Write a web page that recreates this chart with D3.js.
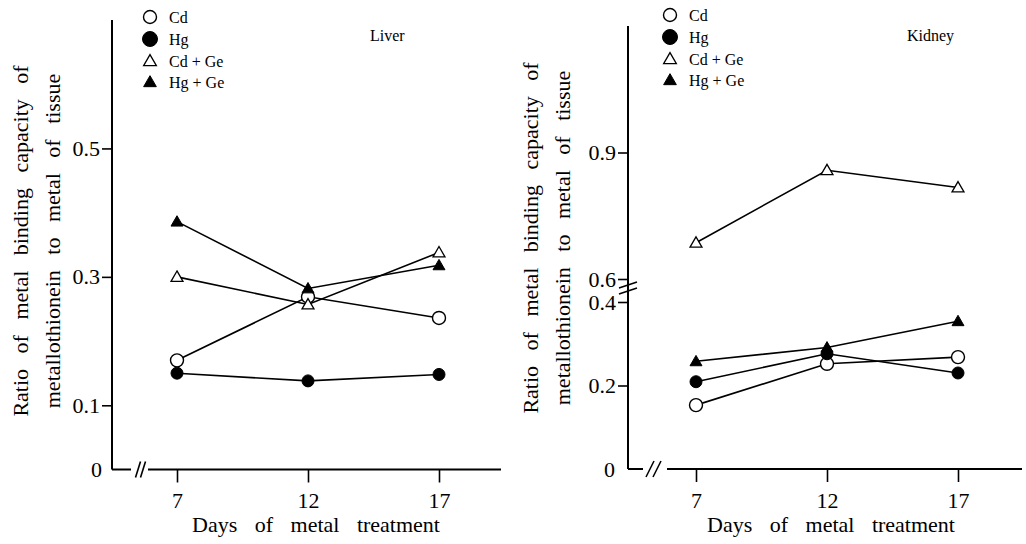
<!DOCTYPE html>
<html><head><meta charset="utf-8">
<script src="https://cdn.jsdelivr.net/npm/d3@7"></script>
<style>
html,body{margin:0;padding:0;background:#fff;}
svg{display:block;}
svg text{font-family:"Liberation Serif","Times New Roman","DejaVu Serif",serif !important;fill:#000;}
</style></head>
<body>
<svg id="chart" width="1026" height="544"></svg>
<script>
// ---- data ----
const days = [7, 12, 17];
const seriesNames = ["Cd", "Hg", "Cd + Ge", "Hg + Ge"];
const seriesMarkers = ["openCircle", "filledCircle", "openTriangle", "filledTriangle"];
const liverCd   = [0.170, 0.269, 0.236];
const liverHg   = [0.150, 0.138, 0.148];
const liverCdGe = [0.300, 0.257, 0.338];
const liverHgGe = [0.386, 0.282, 0.318];
const kidneyCd   = [0.153, 0.252, 0.268];
const kidneyHg   = [0.209, 0.276, 0.230];
const kidneyCdGe = [0.686, 0.858, 0.817];
const kidneyHgGe = [0.258, 0.291, 0.354];
const liverTicks = [0.1, 0.3, 0.5];
const kidneyTicks = [0.2, 0.4, 0.6, 0.9];
const dayTicks = [7, 12, 17];
const yTitle1 = "Ratio of metal binding capacity of";
const yTitle2 = "metallothionein to metal of tissue";
const xTitle = "Days of metal treatment";

const svg = d3.select("#chart");

function marker(g, type, x, y, big) {
  const open = type.startsWith("open");
  if (type.endsWith("Circle")) {
    g.append("circle").attr("cx", x).attr("cy", y)
      .attr("r", big ? (open ? 6.5 : 7.5) : (open ? 6.5 : 6))
      .attr("fill", open ? "#fff" : "#000")
      .attr("stroke", "#000").attr("stroke-width", open ? 1.4 : 1);
  } else {
    g.append("path").attr("d", d3.symbol(d3.symbolTriangle, big ? 70 : 62)())
      .attr("transform", `translate(${x},${y + 1})`)
      .attr("fill", open ? "#fff" : "#000")
      .attr("stroke", "#000").attr("stroke-width", open ? 1.3 : 1);
  }
}

function panel(cfg) {
  const g = svg.append("g");
  const x = d3.scaleLinear().domain([7, 17]).range(cfg.xRange);
  const y = cfg.y;
  const x0 = cfg.axisX, yBase = cfg.axisY;

  g.append("line").attr("x1", x0).attr("x2", x0).attr("y1", cfg.axisTop).attr("y2", yBase)
    .attr("stroke", "#000").attr("stroke-width", 2);
  g.append("line").attr("x1", x0).attr("x2", cfg.gap[0]).attr("y1", yBase).attr("y2", yBase)
    .attr("stroke", "#000").attr("stroke-width", 2);
  g.append("line").attr("x1", cfg.gap[1]).attr("x2", cfg.axisRight).attr("y1", yBase).attr("y2", yBase)
    .attr("stroke", "#000").attr("stroke-width", 2);
  cfg.breakX.forEach(bx => {
    g.append("line").attr("x1", bx - cfg.breakSlant).attr("y1", yBase + 8)
      .attr("x2", bx + cfg.breakSlant).attr("y2", yBase - 8)
      .attr("stroke", "#000").attr("stroke-width", 1.6);
  });

  const ya = d3.axisLeft(y).tickValues(cfg.yTicks).tickSize(10).tickPadding(2)
    .tickFormat(d3.format(".1f"));
  const yg = g.append("g").attr("transform", `translate(${x0},0)`).call(ya);
  yg.select(".domain").remove();
  yg.selectAll(".tick line").attr("stroke", "#000").attr("stroke-width", 1.6);
  yg.selectAll(".tick text").attr("font-size", 22);
  g.append("text").attr("x", cfg.zeroX).attr("y", yBase).attr("dy", "0.35em")
    .attr("text-anchor", "end").attr("font-size", 22).text("0");

  const xa = d3.axisBottom(x).tickValues(dayTicks).tickSize(13).tickPadding(10).tickFormat(d3.format("d"));
  const xg = g.append("g").attr("transform", `translate(0,${yBase})`).call(xa);
  xg.select(".domain").remove();
  xg.selectAll(".tick line").attr("stroke", "#000").attr("stroke-width", 1.6);
  xg.selectAll(".tick text").attr("font-size", 22);

  if (cfg.yBreak) {
    const by = cfg.yBreak;
    [-3, 3].forEach(o => {
      g.append("line").attr("x1", x0 - 9).attr("y1", by + o + 3).attr("x2", x0 + 9).attr("y2", by + o - 3)
        .attr("stroke", "#000").attr("stroke-width", 1.4);
    });
  }

  g.append("text").attr("x", cfg.xTitleX).attr("y", 532).attr("text-anchor", "middle")
    .attr("font-size", 22).attr("word-spacing", "12px").text(xTitle);
  [[cfg.yt1, yTitle1], [cfg.yt2, yTitle2]].forEach(([tx, t]) => {
    g.append("text").attr("transform", `translate(${tx},${cfg.ytY}) rotate(-90)`)
      .attr("dy", "0.35em").attr("text-anchor", "middle")
      .attr("font-size", 22).attr("word-spacing", "10px").text(t);
  });
  g.append("text").attr("x", cfg.tissueX).attr("y", 35).attr("dy", "0.35em")
    .attr("font-size", 16).text(cfg.tissue);

  const line = d3.line().x((d, i) => x(days[i])).y(d => y(d));
  cfg.series.forEach(s => {
    g.append("path").attr("d", line(s)).attr("fill", "none")
      .attr("stroke", "#000").attr("stroke-width", 1.6);
  });
  cfg.series.forEach((s, k) => {
    s.forEach((v, i) => marker(g, seriesMarkers[k], x(days[i]), y(v), false));
  });

  seriesNames.forEach((n, k) => {
    const ly = cfg.legendY[k];
    marker(g, seriesMarkers[k], cfg.legendX, ly, true);
    g.append("text").attr("x", cfg.legendX + 19).attr("y", ly).attr("dy", "0.35em")
      .attr("font-size", 16).text(n);
  });
}

panel({
  xRange: [177, 439], axisX: 112, axisY: 469.5, axisTop: 20, axisRight: 501,
  gap: [131, 148], breakX: [138, 143], breakSlant: 2.5,
  y: d3.scaleLinear().domain([0, 0.7]).range([469.5, 20]),
  yTicks: liverTicks, zeroX: 102,
  xTitleX: 316, yt1: 20, yt2: 52, ytY: 241,
  tissue: "Liver", tissueX: 370,
  series: [liverCd, liverHg, liverCdGe, liverHgGe],
  legendX: 150, legendY: [17, 39, 61, 82]
});

panel({
  xRange: [696, 958], axisX: 628, axisY: 469, axisTop: 26, axisRight: 1022,
  gap: [643, 667], breakX: [650, 657], breakSlant: 4,
  y: d3.scaleLinear().domain([0, 0.4, 0.6, 1.2]).range([469, 302, 279, 26]),
  yTicks: kidneyTicks, zeroX: 615, yBreak: 288,
  xTitleX: 831, yt1: 530, yt2: 562, ytY: 238,
  tissue: "Kidney", tissueX: 907,
  series: [kidneyCd, kidneyHg, kidneyCdGe, kidneyHgGe],
  legendX: 670, legendY: [15, 37, 59, 80]
});
</script>
</body></html>
